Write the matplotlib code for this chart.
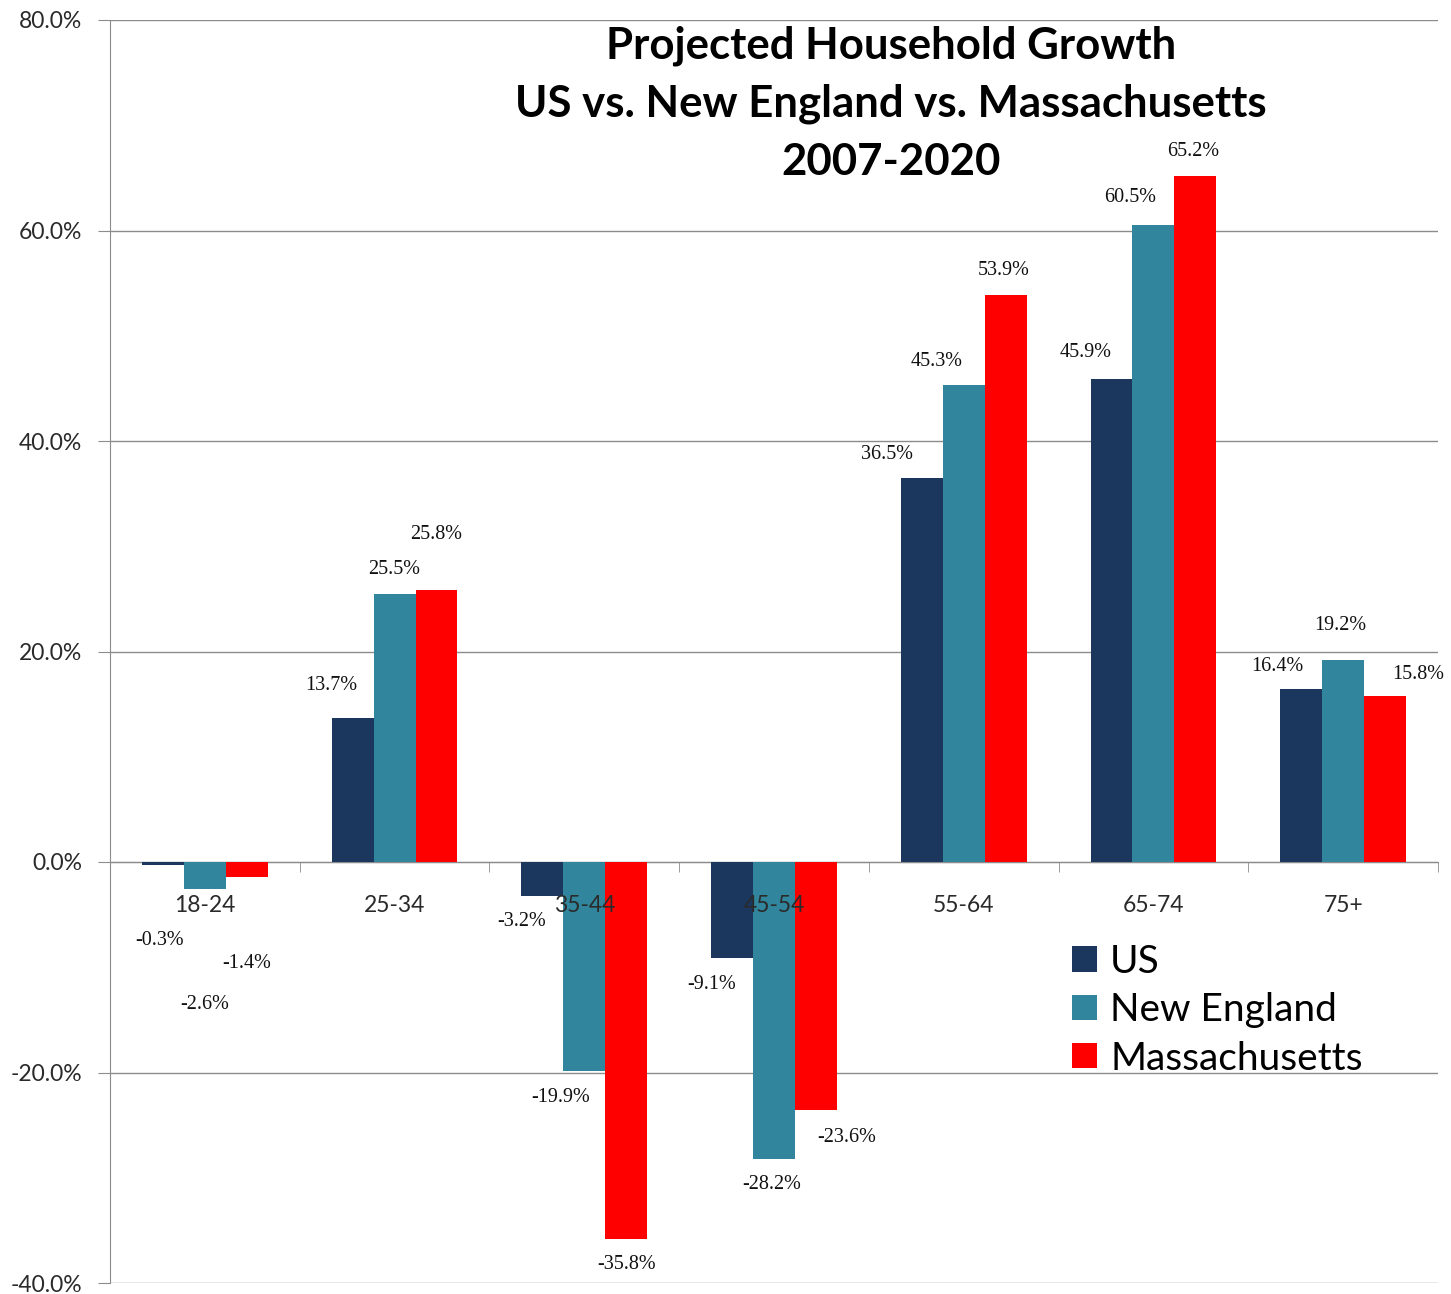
import numpy as np
import matplotlib
matplotlib.use("Agg")
import matplotlib.pyplot as plt
from matplotlib.ticker import FixedLocator

# ---- data: projected household growth 2007-2020, percent ----
age_groups = ["18-24", "25-34", "35-44", "45-54", "55-64", "65-74", "75+"]
series_names = ["US", "New England", "Massachusetts"]
us = [-0.3, 13.7, -3.2, -9.1, 36.5, 45.9, 16.4]
new_england = [-2.6, 25.5, -19.9, -28.2, 45.3, 60.5, 19.2]
massachusetts = [-1.4, 25.8, -35.8, -23.6, 53.9, 65.2, 15.8]
title_lines = ["Projected Household Growth",
               "US vs. New England vs. Massachusetts",
               "2007-2020"]

# label nudges (pixels) from each bar end, hand placed
label_offsets = {
    "US": [(-3, -75), (-21, 32), (-21, -26), (-20, -27), (-35, 23), (-26, 26), (-24, 23)],
    "New England": [(0, -115), (0, 24), (-24, -26), (-2, -26), (-27, 24), (-23, 28), (-3, 34)],
    "Massachusetts": [(0, -87), (0, 56), (0, -26), (31, -27), (-2, 24), (-2, 24), (33, 21)],
}

colors = ["#1b375e", "#31859c", "#ff0000"]
GRID = "#8c8c8c"
SANS = ["Lato", "DejaVu Sans"]
SERIF = ["Liberation Serif", "DejaVu Serif"]

fig = plt.figure(figsize=(14.51, 12.94), dpi=100)
ax = fig.add_axes([110 / 1451, 1 - 1283 / 1294, (1438 - 110) / 1451, (1283 - 20) / 1294])

x = np.arange(len(age_groups))
width = 0.221
handles = []
for k, (name, vals) in enumerate(zip(series_names, [us, new_england, massachusetts])):
    xs = x + (k - 1) * width
    bars = ax.bar(xs, vals, width=width, color=colors[k], zorder=3, label=name)
    handles.append(bars)
    for xi, v, (dx, dy) in zip(xs, vals, label_offsets[name]):
        ax.annotate(f"{v:.1f}%", (xi, v), xytext=(dx, dy), textcoords="offset pixels",
                    ha="center", va="center", fontsize=14.5, family=SERIF,
                    color="#111111", zorder=4)

ax.set_xlim(-0.5, len(age_groups) - 0.5)
ax.set_ylim(-40, 80)
ax.set_yticks(np.arange(-40, 81, 20))
ax.set_yticklabels([f"{t:.1f}%" for t in np.arange(-40, 81, 20)])
ax.yaxis.grid(True, color=GRID, lw=1.0, zorder=0)

# category axis sits on the zero line
ax.spines["bottom"].set_position(("data", 0))
ax.spines["bottom"].set_color(GRID)
ax.spines["left"].set_color(GRID)
ax.spines["top"].set_visible(False)
ax.spines["right"].set_visible(False)
ax.set_xticks(x)
ax.set_xticklabels([])
ax.xaxis.set_minor_locator(FixedLocator(np.arange(-0.5, len(age_groups), 1.0)))
ax.tick_params(axis="x", which="major", length=0)
ax.tick_params(axis="x", which="minor", length=7, color=GRID, direction="out")
ax.tick_params(axis="y", length=9, color=GRID, pad=11, labelsize=16.5, labelcolor="#2a2a2a")
for lab in ax.get_yticklabels():
    lab.set_family(SANS)

# category names drawn as text so they sit on top of the bars
for xi, name in zip(x, age_groups):
    ax.annotate(name, (xi, 0), xytext=(0, -44), textcoords="offset pixels",
                ha="center", va="center", fontsize=16.5, family=SANS,
                color="#2a2a2a", zorder=5)

# title, one text per line
for i, line in enumerate(title_lines):
    ax.text(0.588, 0.996 - i * 58.5 / 1263, line, transform=ax.transAxes,
            ha="center", va="top", fontsize=31.5, fontweight="bold",
            family=SANS, color="black")

leg = ax.legend(handles=handles, loc="upper left", bbox_to_anchor=(0.713, 0.281),
                frameon=False, prop={"family": SANS, "size": 28}, handlelength=0.62,
                handleheight=0.62, handletextpad=0.35, labelspacing=0.32, borderaxespad=0)

fig.savefig("out.png", dpi=100, facecolor="white")
